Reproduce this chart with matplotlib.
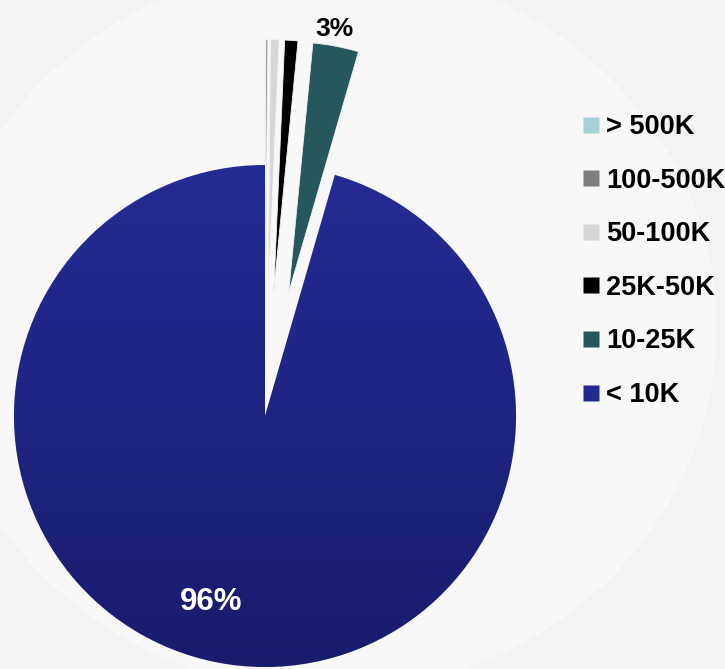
import numpy as np
import matplotlib
matplotlib.use("Agg")
import matplotlib.pyplot as plt
from matplotlib.lines import Line2D
from matplotlib.colors import LinearSegmentedColormap

categories = ["> 500K", "100-500K", "50-100K", "25K-50K", "10-25K", "< 10K"]
shares = [0.02, 0.12, 0.55, 0.85, 2.95, 95.51]
colors = ["#a9d0d4", "#7f7f7f", "#d6d6d6", "#000000", "#26575a", "#222a8f"]
explode = [0.5, 0.5, 0.5, 0.5, 0.5, 0.0]

plt.rcParams['font.family'] = ['Liberation Sans', 'DejaVu Sans']

W, H = 725, 669
BG = "#f3f3f3"
fig = plt.figure(figsize=(W / 100, H / 100), dpi=100, facecolor=BG)
ax = fig.add_axes([0, 0, 1, 1])
ax.set_facecolor("none")

# faint watermark ring in the background
theta = np.linspace(0, 2 * np.pi, 400)
ax.fill(0.25 + 1.55 * np.cos(theta), 0.35 + 1.45 * np.sin(theta),
        color="#f8f8f8", zorder=0, lw=0)

def fmt(p):
    return f"{p:.0f}%" if p >= 2 else ""

wedges, texts, autotexts = ax.pie(
    shares, colors=colors, explode=explode, startangle=90, counterclock=False,
    autopct=fmt, radius=1.0, wedgeprops=dict(linewidth=0.6, edgecolor=BG),
    textprops=dict(fontsize=18, fontweight="bold"))

# gradient fill for the big wedge
big = wedges[-1]
grad = np.linspace(0, 1, 256).reshape(-1, 1)
cmap = LinearSegmentedColormap.from_list("b", ["#252c95", "#181c6c"])
im = ax.imshow(grad, cmap=cmap, extent=(-1.05, 1.05, -1.05, 1.05), origin="upper",
               aspect="auto", zorder=big.get_zorder() + 0.1)
im.set_clip_path(big)

# label placement relative to each wedge geometry
place = {4: (1.065, 1.0, "#000000", 19), 5: (0.77, -8.0, "#ffffff", 22.5)}
for i, t in enumerate(autotexts):
    if i in place:
        d, off, c, fs = place[i]
        w = wedges[i]
        mid = np.deg2rad((w.theta1 + w.theta2) / 2 + off)
        cx, cy = w.center
        t.set_position((cx + d * w.r * np.cos(mid), cy + d * w.r * np.sin(mid)))
        t.set_color(c)
        t.set_fontsize(fs)
        t.set_zorder(10)

ax.set_xlim(-265 / 251, 460 / 251)
ax.set_ylim(-253 / 251, 416 / 251)
ax.set_aspect("auto")
ax.axis("off")

handles = [Line2D([], [], marker="s", linestyle="none", markersize=11,
                  markerfacecolor=c, markeredgecolor="none") for c in colors]
fig.legend(handles, categories, loc="upper left",
           bbox_to_anchor=(583 / W, 1 - 114 / H), frameon=False,
           prop=dict(size=19.5, weight="bold"), handlelength=0.6,
           handletextpad=0.25, labelspacing=1.02, borderpad=0, borderaxespad=0)

fig.savefig("out.png", dpi=100, facecolor=fig.get_facecolor())
